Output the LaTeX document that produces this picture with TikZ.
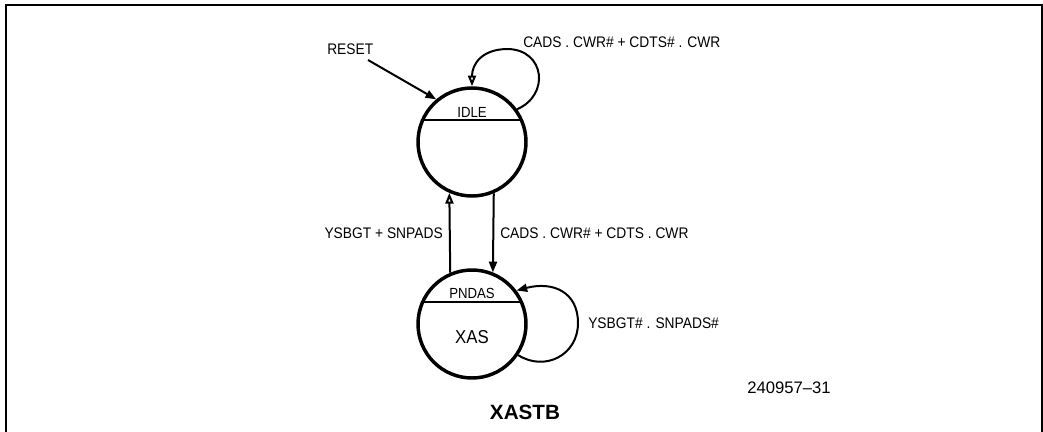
\documentclass[tikz,border=0pt]{standalone}
\usepackage{fontspec}
\setmainfont{Liberation Sans}
\newfontfamily\condfont[FakeStretch=0.9]{Liberation Sans}
\usetikzlibrary{arrows.meta}
\begin{document}
\begin{tikzpicture}[x=0.75pt,y=-0.75pt,
  state/.style={circle,draw,line width=2.6pt,minimum size=81pt,inner sep=0pt},
  conn/.style={line width=1.5pt},
  filledtip/.style={-{Triangle[length=8pt,width=6pt]}},
  opentip/.style={-{Triangle[open,length=8pt,width=6pt,fill=white]}},
  lbl/.style={font=\condfont\fontsize{11.5}{13}\selectfont,inner sep=0pt},
  divider/.style={line width=1.2pt}]
\useasboundingbox (0,0) rectangle (1043,432);
% frame
\draw[line width=1.5pt] (6,432) -- (6,5) -- (1042,5) -- (1042,432);
% states
\node[state] (idle) at (472,142) {};
\node[state] (pndas) at (472,324) {};
\draw[divider] (idle.157) -- (idle.23);
\draw[divider] (pndas.157) -- (pndas.23);
\node[lbl,font=\condfont\fontsize{11}{13}\selectfont] (idlelbl) at (472,112) {IDLE};
\node[lbl,font=\condfont\fontsize{11}{13}\selectfont] (pndaslbl) at (472,293) {PNDAS};
\node[inner sep=0pt,font=\condfont\fontsize{14}{16}\selectfont] (xaslbl) at (472,337) {XAS};
% reset
\node[lbl,anchor=west] (reset) at (327,49) {RESET};
\coordinate (resetstart) at (368,60);
\draw[conn,filledtip] (resetstart) -- (idle.130);
% idle self loop
\draw[conn,opentip] (idle.36) .. controls (550,95) and (545,50) .. (508,49)
   .. controls (482,49) and (472,64) .. (idle.90);
\node[lbl,anchor=west] (l1) at (523,42) {CADS . CWR\# + CDTS\# . CWR};
% vertical connectors
\draw[conn,opentip] (pndas.113) -- (idle.246.4);
\draw[conn,filledtip] (idle.-67.5) -- (pndas.68);
\node[lbl,anchor=east] (l2) at (443,233) {YSBGT + SNPADS};
\node[lbl,anchor=west] (l3) at (500,233) {CADS . CWR\# + CDTS . CWR};
% pndas self loop
\draw[conn,filledtip] (pndas.-34) .. controls (545,372) and (578,355) .. (578,323)
   .. controls (578,292) and (553,281) .. (pndas.37);
\node[lbl,anchor=west] (l4) at (588,323) {YSBGT\# . SNPADS\#};
% figure number and title
\node[inner sep=0pt,anchor=west,font=\fontsize{12.5}{14}\selectfont] (fig) at (747,388) {240957{\textendash}31};
\node[inner sep=0pt,font=\bfseries\fontsize{15.5}{17}\selectfont] (title) at (525,412) {XASTB};
\end{tikzpicture}
\end{document}
